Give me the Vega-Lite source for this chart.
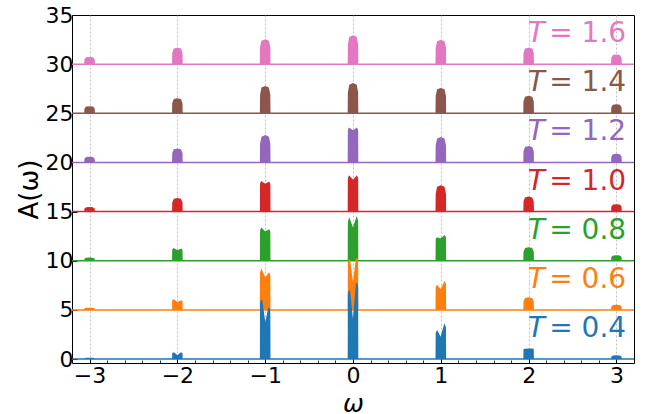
{
"$schema":"https://vega.github.io/schema/vega-lite/v6.json",
"width":562,"height":348,
"autosize":{"type":"none"},
"padding":{"left":72,"top":15,"right":18,"bottom":51},
"config":{"view":{"stroke":"#000","strokeWidth":1},"font":"DejaVu Sans"},
"resolve":{"axis":{"x":"independent"}},
"datasets":{
"labels":[{"T":"0.4","b":0,"lab":"= 0.4"},{"T":"0.6","b":5,"lab":"= 0.6"},{"T":"0.8","b":10,"lab":"= 0.8"},{"T":"1.0","b":15,"lab":"= 1.0"},{"T":"1.2","b":20,"lab":"= 1.2"},{"T":"1.4","b":25,"lab":"= 1.4"},{"T":"1.6","b":30,"lab":"= 1.6"}],
"curves":[
{"T":"1.6","w":-3.2,"y":30},
{"T":"1.6","w":-3.052,"y":30},{"T":"1.6","w":-3.05,"y":30.46},{"T":"1.6","w":-3.035,"y":30.62},{"T":"1.6","w":-3,"y":30.65},{"T":"1.6","w":-2.965,"y":30.62},{"T":"1.6","w":-2.95,"y":30.46},{"T":"1.6","w":-2.948,"y":30},
{"T":"1.6","w":-2.052,"y":30},{"T":"1.6","w":-2.05,"y":31.12},{"T":"1.6","w":-2.035,"y":31.52},{"T":"1.6","w":-2,"y":31.6},{"T":"1.6","w":-1.965,"y":31.52},{"T":"1.6","w":-1.95,"y":31.12},{"T":"1.6","w":-1.948,"y":30},
{"T":"1.6","w":-1.052,"y":30},{"T":"1.6","w":-1.05,"y":31.72},{"T":"1.6","w":-1.035,"y":32.33},{"T":"1.6","w":-1,"y":32.45},{"T":"1.6","w":-0.965,"y":32.33},{"T":"1.6","w":-0.95,"y":31.72},{"T":"1.6","w":-0.948,"y":30},
{"T":"1.6","w":-0.052,"y":30},{"T":"1.6","w":-0.05,"y":32},{"T":"1.6","w":-0.035,"y":32.71},{"T":"1.6","w":0,"y":32.85},{"T":"1.6","w":0.035,"y":32.71},{"T":"1.6","w":0.05,"y":32},{"T":"1.6","w":0.052,"y":30},
{"T":"1.6","w":0.948,"y":30},{"T":"1.6","w":0.95,"y":31.68},{"T":"1.6","w":0.965,"y":32.28},{"T":"1.6","w":1,"y":32.4},{"T":"1.6","w":1.035,"y":32.28},{"T":"1.6","w":1.05,"y":31.68},{"T":"1.6","w":1.052,"y":30},
{"T":"1.6","w":1.948,"y":30},{"T":"1.6","w":1.95,"y":31.12},{"T":"1.6","w":1.965,"y":31.52},{"T":"1.6","w":2,"y":31.6},{"T":"1.6","w":2.035,"y":31.52},{"T":"1.6","w":2.05,"y":31.12},{"T":"1.6","w":2.052,"y":30},
{"T":"1.6","w":2.948,"y":30},{"T":"1.6","w":2.95,"y":30.63},{"T":"1.6","w":2.965,"y":30.86},{"T":"1.6","w":3,"y":30.9},{"T":"1.6","w":3.035,"y":30.86},{"T":"1.6","w":3.05,"y":30.63},{"T":"1.6","w":3.052,"y":30},
{"T":"1.6","w":3.2,"y":30},

{"T":"1.4","w":-3.2,"y":25},
{"T":"1.4","w":-3.052,"y":25},{"T":"1.4","w":-3.05,"y":25.46},{"T":"1.4","w":-3.035,"y":25.62},{"T":"1.4","w":-3,"y":25.65},{"T":"1.4","w":-2.965,"y":25.62},{"T":"1.4","w":-2.95,"y":25.46},{"T":"1.4","w":-2.948,"y":25},
{"T":"1.4","w":-2.052,"y":25},{"T":"1.4","w":-2.05,"y":26.02},{"T":"1.4","w":-2.035,"y":26.38},{"T":"1.4","w":-2,"y":26.45},{"T":"1.4","w":-1.965,"y":26.38},{"T":"1.4","w":-1.95,"y":26.02},{"T":"1.4","w":-1.948,"y":25},
{"T":"1.4","w":-1.052,"y":25},{"T":"1.4","w":-1.05,"y":26.89},{"T":"1.4","w":-1.035,"y":27.57},{"T":"1.4","w":-1,"y":27.7},{"T":"1.4","w":-0.965,"y":27.57},{"T":"1.4","w":-0.95,"y":26.89},{"T":"1.4","w":-0.948,"y":25},
{"T":"1.4","w":-0.052,"y":25},{"T":"1.4","w":-0.05,"y":27.1},{"T":"1.4","w":-0.035,"y":27.85},{"T":"1.4","w":0,"y":28},{"T":"1.4","w":0.035,"y":27.85},{"T":"1.4","w":0.05,"y":27.1},{"T":"1.4","w":0.052,"y":25},
{"T":"1.4","w":0.948,"y":25},{"T":"1.4","w":0.95,"y":26.75},{"T":"1.4","w":0.965,"y":27.38},{"T":"1.4","w":1,"y":27.5},{"T":"1.4","w":1.035,"y":27.38},{"T":"1.4","w":1.05,"y":26.75},{"T":"1.4","w":1.052,"y":25},
{"T":"1.4","w":1.948,"y":25},{"T":"1.4","w":1.95,"y":26.19},{"T":"1.4","w":1.965,"y":26.62},{"T":"1.4","w":2,"y":26.7},{"T":"1.4","w":2.035,"y":26.62},{"T":"1.4","w":2.05,"y":26.19},{"T":"1.4","w":2.052,"y":25},
{"T":"1.4","w":2.948,"y":25},{"T":"1.4","w":2.95,"y":25.6},{"T":"1.4","w":2.965,"y":25.81},{"T":"1.4","w":3,"y":25.85},{"T":"1.4","w":3.035,"y":25.81},{"T":"1.4","w":3.05,"y":25.6},{"T":"1.4","w":3.052,"y":25},
{"T":"1.4","w":3.2,"y":25},

{"T":"1.2","w":-3.2,"y":20},
{"T":"1.2","w":-3.052,"y":20},{"T":"1.2","w":-3.05,"y":20.35},{"T":"1.2","w":-3.035,"y":20.48},{"T":"1.2","w":-3,"y":20.5},{"T":"1.2","w":-2.965,"y":20.48},{"T":"1.2","w":-2.95,"y":20.35},{"T":"1.2","w":-2.948,"y":20},
{"T":"1.2","w":-2.052,"y":20},{"T":"1.2","w":-2.05,"y":20.95},{"T":"1.2","w":-2.035,"y":21.28},{"T":"1.2","w":-2,"y":21.35},{"T":"1.2","w":-1.965,"y":21.28},{"T":"1.2","w":-1.95,"y":20.95},{"T":"1.2","w":-1.948,"y":20},
{"T":"1.2","w":-1.052,"y":20},{"T":"1.2","w":-1.05,"y":21.89},{"T":"1.2","w":-1.035,"y":22.57},{"T":"1.2","w":-1,"y":22.7},{"T":"1.2","w":-0.965,"y":22.57},{"T":"1.2","w":-0.95,"y":21.89},{"T":"1.2","w":-0.948,"y":20},
{"T":"1.2","w":-0.052,"y":20},{"T":"1.2","w":-0.05,"y":23.28},{"T":"1.2","w":-0.042,"y":23.45},{"T":"1.2","w":0,"y":23.2},{"T":"1.2","w":0.042,"y":23.45},{"T":"1.2","w":0.05,"y":23.28},{"T":"1.2","w":0.052,"y":20},
{"T":"1.2","w":0.948,"y":20},{"T":"1.2","w":0.95,"y":21.75},{"T":"1.2","w":0.965,"y":22.38},{"T":"1.2","w":1,"y":22.5},{"T":"1.2","w":1.035,"y":22.38},{"T":"1.2","w":1.05,"y":21.75},{"T":"1.2","w":1.052,"y":20},
{"T":"1.2","w":1.948,"y":20},{"T":"1.2","w":1.95,"y":21.12},{"T":"1.2","w":1.965,"y":21.52},{"T":"1.2","w":2,"y":21.6},{"T":"1.2","w":2.035,"y":21.52},{"T":"1.2","w":2.05,"y":21.12},{"T":"1.2","w":2.052,"y":20},
{"T":"1.2","w":2.948,"y":20},{"T":"1.2","w":2.95,"y":20.56},{"T":"1.2","w":2.965,"y":20.76},{"T":"1.2","w":3,"y":20.8},{"T":"1.2","w":3.035,"y":20.76},{"T":"1.2","w":3.05,"y":20.56},{"T":"1.2","w":3.052,"y":20},
{"T":"1.2","w":3.2,"y":20},

{"T":"1.0","w":-3.2,"y":15},
{"T":"1.0","w":-3.052,"y":15},{"T":"1.0","w":-3.05,"y":15.28},{"T":"1.0","w":-3.035,"y":15.38},{"T":"1.0","w":-3,"y":15.4},{"T":"1.0","w":-2.965,"y":15.38},{"T":"1.0","w":-2.95,"y":15.28},{"T":"1.0","w":-2.948,"y":15},
{"T":"1.0","w":-2.052,"y":15},{"T":"1.0","w":-2.05,"y":15.91},{"T":"1.0","w":-2.035,"y":16.24},{"T":"1.0","w":-2,"y":16.3},{"T":"1.0","w":-1.965,"y":16.24},{"T":"1.0","w":-1.95,"y":15.91},{"T":"1.0","w":-1.948,"y":15},
{"T":"1.0","w":-1.052,"y":15},{"T":"1.0","w":-1.05,"y":17.85},{"T":"1.0","w":-1.042,"y":18},{"T":"1.0","w":-1,"y":17.75},{"T":"1.0","w":-0.958,"y":17.95},{"T":"1.0","w":-0.95,"y":17.8},{"T":"1.0","w":-0.948,"y":15},
{"T":"1.0","w":-0.052,"y":15},{"T":"1.0","w":-0.05,"y":18.38},{"T":"1.0","w":-0.042,"y":18.56},{"T":"1.0","w":0,"y":18.15},{"T":"1.0","w":0.042,"y":18.56},{"T":"1.0","w":0.05,"y":18.38},{"T":"1.0","w":0.052,"y":15},
{"T":"1.0","w":0.948,"y":15},{"T":"1.0","w":0.95,"y":16.82},{"T":"1.0","w":0.965,"y":17.47},{"T":"1.0","w":1,"y":17.6},{"T":"1.0","w":1.035,"y":17.47},{"T":"1.0","w":1.05,"y":16.82},{"T":"1.0","w":1.052,"y":15},
{"T":"1.0","w":1.948,"y":15},{"T":"1.0","w":1.95,"y":16.02},{"T":"1.0","w":1.965,"y":16.38},{"T":"1.0","w":2,"y":16.45},{"T":"1.0","w":2.035,"y":16.38},{"T":"1.0","w":2.05,"y":16.02},{"T":"1.0","w":2.052,"y":15},
{"T":"1.0","w":2.948,"y":15},{"T":"1.0","w":2.95,"y":15.48},{"T":"1.0","w":2.965,"y":15.65},{"T":"1.0","w":3,"y":15.68},{"T":"1.0","w":3.035,"y":15.65},{"T":"1.0","w":3.05,"y":15.48},{"T":"1.0","w":3.052,"y":15},
{"T":"1.0","w":3.2,"y":15},

{"T":"0.8","w":-3.2,"y":10},
{"T":"0.8","w":-3.052,"y":10},{"T":"0.8","w":-3.05,"y":10.18},{"T":"0.8","w":-3.035,"y":10.24},{"T":"0.8","w":-3,"y":10.25},{"T":"0.8","w":-2.965,"y":10.24},{"T":"0.8","w":-2.95,"y":10.18},{"T":"0.8","w":-2.948,"y":10},
{"T":"0.8","w":-2.052,"y":10},{"T":"0.8","w":-2.05,"y":11.14},{"T":"0.8","w":-2.042,"y":11.2},{"T":"0.8","w":-2,"y":11},{"T":"0.8","w":-1.958,"y":11.15},{"T":"0.8","w":-1.95,"y":11.09},{"T":"0.8","w":-1.948,"y":10},
{"T":"0.8","w":-1.052,"y":10},{"T":"0.8","w":-1.05,"y":13.09},{"T":"0.8","w":-1.042,"y":13.25},{"T":"0.8","w":-1,"y":12.9},{"T":"0.8","w":-0.958,"y":13.1},{"T":"0.8","w":-0.95,"y":12.95},{"T":"0.8","w":-0.948,"y":10},
{"T":"0.8","w":-0.052,"y":10},{"T":"0.8","w":-0.05,"y":13.99},{"T":"0.8","w":-0.042,"y":14.2},{"T":"0.8","w":0,"y":13.15},{"T":"0.8","w":0.042,"y":14.3},{"T":"0.8","w":0.05,"y":14.09},{"T":"0.8","w":0.052,"y":10},
{"T":"0.8","w":0.948,"y":10},{"T":"0.8","w":0.95,"y":12.19},{"T":"0.8","w":0.958,"y":12.3},{"T":"0.8","w":1,"y":12.2},{"T":"0.8","w":1.042,"y":12.5},{"T":"0.8","w":1.05,"y":12.38},{"T":"0.8","w":1.052,"y":10},
{"T":"0.8","w":1.948,"y":10},{"T":"0.8","w":1.95,"y":10.91},{"T":"0.8","w":1.965,"y":11.24},{"T":"0.8","w":2,"y":11.3},{"T":"0.8","w":2.035,"y":11.24},{"T":"0.8","w":2.05,"y":10.91},{"T":"0.8","w":2.052,"y":10},
{"T":"0.8","w":2.948,"y":10},{"T":"0.8","w":2.95,"y":10.34},{"T":"0.8","w":2.965,"y":10.46},{"T":"0.8","w":3,"y":10.48},{"T":"0.8","w":3.035,"y":10.46},{"T":"0.8","w":3.05,"y":10.34},{"T":"0.8","w":3.052,"y":10},
{"T":"0.8","w":3.2,"y":10},

{"T":"0.6","w":-3.2,"y":5},
{"T":"0.6","w":-3.052,"y":5},{"T":"0.6","w":-3.05,"y":5.11},{"T":"0.6","w":-3.035,"y":5.14},{"T":"0.6","w":-3,"y":5.15},{"T":"0.6","w":-2.965,"y":5.14},{"T":"0.6","w":-2.95,"y":5.11},{"T":"0.6","w":-2.948,"y":5},
{"T":"0.6","w":-2.052,"y":5},{"T":"0.6","w":-2.05,"y":5.95},{"T":"0.6","w":-2.042,"y":6},{"T":"0.6","w":-2,"y":5.7},{"T":"0.6","w":-1.958,"y":5.9},{"T":"0.6","w":-1.95,"y":5.86},{"T":"0.6","w":-1.948,"y":5},
{"T":"0.6","w":-1.052,"y":5},{"T":"0.6","w":-1.05,"y":8.8},{"T":"0.6","w":-1.042,"y":9},{"T":"0.6","w":-1,"y":8.15},{"T":"0.6","w":-0.958,"y":8.7},{"T":"0.6","w":-0.95,"y":8.52},{"T":"0.6","w":-0.948,"y":5},
{"T":"0.6","w":-0.052,"y":5},{"T":"0.6","w":-0.05,"y":9.85},{"T":"0.6","w":-0.042,"y":10.1},{"T":"0.6","w":0,"y":7.3},{"T":"0.6","w":0.042,"y":10.25},{"T":"0.6","w":0.05,"y":9.99},{"T":"0.6","w":0.052,"y":5},
{"T":"0.6","w":0.948,"y":5},{"T":"0.6","w":0.95,"y":7.32},{"T":"0.6","w":0.958,"y":7.44},{"T":"0.6","w":1,"y":7},{"T":"0.6","w":1.042,"y":7.78},{"T":"0.6","w":1.05,"y":7.64},{"T":"0.6","w":1.052,"y":5},
{"T":"0.6","w":1.948,"y":5},{"T":"0.6","w":1.95,"y":5.84},{"T":"0.6","w":1.965,"y":6.14},{"T":"0.6","w":2,"y":6.2},{"T":"0.6","w":2.035,"y":6.14},{"T":"0.6","w":2.05,"y":5.84},{"T":"0.6","w":2.052,"y":5},
{"T":"0.6","w":2.948,"y":5},{"T":"0.6","w":2.95,"y":5.32},{"T":"0.6","w":2.965,"y":5.43},{"T":"0.6","w":3,"y":5.45},{"T":"0.6","w":3.035,"y":5.43},{"T":"0.6","w":3.05,"y":5.32},{"T":"0.6","w":3.052,"y":5},
{"T":"0.6","w":3.2,"y":5},

{"T":"0.4","w":-3.2,"y":0},
{"T":"0.4","w":-3.052,"y":0},{"T":"0.4","w":-3.05,"y":0.04},{"T":"0.4","w":-3.035,"y":0.06},{"T":"0.4","w":-3,"y":0.06},{"T":"0.4","w":-2.965,"y":0.06},{"T":"0.4","w":-2.95,"y":0.04},{"T":"0.4","w":-2.948,"y":0},
{"T":"0.4","w":-2.052,"y":0},{"T":"0.4","w":-2.05,"y":0.57},{"T":"0.4","w":-2.042,"y":0.6},{"T":"0.4","w":-2,"y":0.3},{"T":"0.4","w":-1.958,"y":0.6},{"T":"0.4","w":-1.95,"y":0.57},{"T":"0.4","w":-1.948,"y":0},
{"T":"0.4","w":-1.052,"y":0},{"T":"0.4","w":-1.05,"y":5.7},{"T":"0.4","w":-1.042,"y":6},{"T":"0.4","w":-1,"y":3.3},{"T":"0.4","w":-0.958,"y":5.2},{"T":"0.4","w":-0.95,"y":4.94},{"T":"0.4","w":-0.948,"y":0},
{"T":"0.4","w":-0.052,"y":0},{"T":"0.4","w":-0.05,"y":6.6},{"T":"0.4","w":-0.042,"y":6.95},{"T":"0.4","w":0,"y":3.3},{"T":"0.4","w":0.042,"y":7.7},{"T":"0.4","w":0.05,"y":7.32},{"T":"0.4","w":0.052,"y":0},
{"T":"0.4","w":0.948,"y":0},{"T":"0.4","w":0.95,"y":2.66},{"T":"0.4","w":0.958,"y":2.8},{"T":"0.4","w":1,"y":2.06},{"T":"0.4","w":1.042,"y":3.4},{"T":"0.4","w":1.05,"y":3.23},{"T":"0.4","w":1.052,"y":0},
{"T":"0.4","w":1.948,"y":0},{"T":"0.4","w":1.95,"y":0.95},{"T":"0.4","w":1.958,"y":0.98},{"T":"0.4","w":2,"y":1},{"T":"0.4","w":2.042,"y":1},{"T":"0.4","w":2.05,"y":0.98},{"T":"0.4","w":2.052,"y":0},
{"T":"0.4","w":2.948,"y":0},{"T":"0.4","w":2.95,"y":0.21},{"T":"0.4","w":2.965,"y":0.29},{"T":"0.4","w":3,"y":0.3},{"T":"0.4","w":3.035,"y":0.29},{"T":"0.4","w":3.05,"y":0.21},{"T":"0.4","w":3.052,"y":0},
{"T":"0.4","w":3.2,"y":0}
]},
"layer":[
{"data":{"name":"curves"},
 "transform":[{"lookup":"T","from":{"data":{"name":"labels"},"key":"T","fields":["b"]}}],
 "mark":{"type":"area","strokeWidth":1.5,"fillOpacity":1,"interpolate":"linear"},
 "encoding":{
  "x":{"field":"w","type":"quantitative","scale":{"domain":[-3.2,3.2],"nice":false,"zero":false},
   "axis":{"orient":"bottom","values":[-3,-2,-1,0,1,2,3],"format":"d","tickSize":-5,
    "grid":true,"gridDash":[2,2],"gridColor":"#b0b0b0","gridWidth":0.8,"tickColor":"#000","tickWidth":1,
    "labelFontSize":22,"labelColor":"#000","labelPadding":7,"labelFlush":false,"labelOverlap":false,"labelBound":false,
    "title":"ω","titleFontSize":25,"titleFontStyle":"italic","titleFontWeight":"normal","titleColor":"#000","titleBaseline":"alphabetic","titleY":48,"domain":false}},
  "y":{"field":"y","type":"quantitative","scale":{"domain":[-0.4,35],"nice":false,"zero":false},
   "axis":{"values":[0,5,10,15,20,25,30,35],"tickSize":-5,"tickColor":"#000","grid":false,
    "labelFontSize":22,"labelColor":"#000","labelPadding":4,"labelFlush":false,"labelOverlap":false,"labelBound":false,
    "title":"A(ω)","titleFontSize":26,"titleFontWeight":"normal","titleColor":"#000","titlePadding":3,"domain":false}},
  "y2":{"field":"b"},
  "color":{"field":"T","type":"nominal","scale":{"domain":["0.4","0.6","0.8","1.0","1.2","1.4","1.6"],"range":["#1f77b4","#ff7f0e","#2ca02c","#d62728","#9467bd","#8c564b","#e377c2"]},"legend":null},
  "stroke":{"field":"T","type":"nominal","scale":{"domain":["0.4","0.6","0.8","1.0","1.2","1.4","1.6"],"range":["#1f77b4","#ff7f0e","#2ca02c","#d62728","#9467bd","#8c564b","#e377c2"]},"legend":null}
 }},
{"data":{"name":"labels"},
 "mark":{"type":"text","text":"T","fontStyle":"italic","fontSize":28,"align":"left","baseline":"alphabetic","dy":-22},
 "encoding":{"x":{"datum":1.99,"type":"quantitative",
   "axis":{"orient":"bottom","values":[-2.8,-2.6,-2.4,-2.2,-1.8,-1.6,-1.4,-1.2,-0.8,-0.6,-0.4,-0.2,0.2,0.4,0.6,0.8,1.2,1.4,1.6,1.8,2.2,2.4,2.6,2.8],
    "tickSize":-3,"tickColor":"#000","tickWidth":0.8,"labels":false,"grid":false,"domain":false,"title":null}},
  "y":{"field":"b","type":"quantitative"},
  "color":{"field":"T","type":"nominal","legend":null}}},
{"data":{"name":"labels"},
 "mark":{"type":"text","fontSize":28,"align":"right","baseline":"alphabetic","dy":-22},
 "encoding":{"x":{"datum":3.11,"type":"quantitative","axis":null},"y":{"field":"b","type":"quantitative"},"text":{"field":"lab"},
  "color":{"field":"T","type":"nominal","legend":null}}}
]
}
